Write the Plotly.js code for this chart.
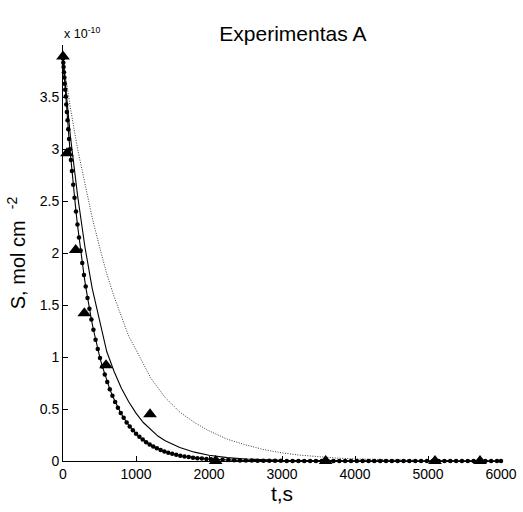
<!DOCTYPE html>
<html>
<head>
<meta charset="utf-8">
<script src="https://cdn.plot.ly/plotly-3.0.1.min.js"></script>
<style>html,body{margin:0;padding:0;background:#fff;}#chart{width:523px;height:512px;}</style>
</head>
<body>
<div id="chart"></div>
<script>
// Experimental points (triangles), S in units of 1e-10 mol cm^-2
const expT = [0, 55, 174, 292, 589, 1192, 2091, 3598, 5096, 5712];
const expS = [3.89, 2.96, 2.03, 1.42, 0.92, 0.45, 0.0, 0.0, 0.0, 0.0];

// Model curve with dot markers
const dotT = [0, 4, 8, 13, 18, 24, 30, 37, 45, 53, 62, 72, 83, 95, 108, 122, 140, 158, 178, 198,
  219, 241, 264, 287, 311, 336, 362, 389, 417, 446, 476, 507, 539, 572, 606, 641, 677, 714, 752, 791,
  831, 872, 914, 957, 1001, 1046, 1092, 1139, 1187, 1236, 1286, 1337, 1389, 1442, 1496, 1551, 1607, 1664, 1722, 1781,
  1841, 1902, 1964, 2027, 2105, 2185, 2265, 2345, 2425, 2505, 2585, 2665, 2745, 2825, 2905, 2985, 3065, 3145, 3225, 3305,
  3385, 3465, 3545, 3625, 3705, 3785, 3865, 3945, 4025, 4105, 4185, 4265, 4345, 4425, 4505, 4585, 4665, 4745, 4825, 4905,
  4985, 5065, 5145, 5225, 5305, 5385, 5465, 5545, 5625, 5705, 5785, 5865, 5945, 6000];
const dotS = [3.870, 3.829, 3.788, 3.737, 3.687, 3.628, 3.570, 3.504, 3.429, 3.356, 3.276, 3.189, 3.096, 2.998, 2.895, 2.788, 2.656, 2.531, 2.398, 2.273,
  2.148, 2.025, 1.903, 1.789, 1.677, 1.568, 1.463, 1.360, 1.262, 1.167, 1.077, 0.990, 0.909, 0.832, 0.759, 0.691, 0.627, 0.568, 0.513, 0.462,
  0.415, 0.371, 0.332, 0.295, 0.262, 0.233, 0.206, 0.181, 0.159, 0.140, 0.122, 0.106, 0.092, 0.080, 0.069, 0.060, 0.051, 0.044, 0.038, 0.032,
  0.027, 0.023, 0.020, 0.017, 0.0135, 0.0109, 0.0088, 0.0071, 0.0057, 0.0046, 0.0037, 0.0030, 0.0024, 0.0019, 0.0016, 0.0013, 0.0010, 0.0008, 0.0007, 0.0005,
  0.0004, 0.0003, 0.0003, 0.0002, 0.0002, 0.0002, 0.0001, 0.0001, 0.0001, 0.0001, 0, 0, 0, 0, 0, 0, 0, 0, 0, 0,
  0, 0, 0, 0, 0, 0, 0, 0, 0, 0, 0, 0, 0, 0];

// Model curve, solid line
const solidT = [0, 100, 200, 300, 400, 500, 600, 700, 800, 900, 1000, 1100, 1200, 1300, 1400, 1500, 1600, 1800, 2000, 2250, 2500, 3000, 3500, 4000, 5000, 6000];
const solidS = [3.87, 3.13, 2.55, 2.06, 1.66, 1.34, 1.05, 0.86, 0.70, 0.57, 0.46, 0.37, 0.30, 0.24, 0.195, 0.16, 0.13, 0.085, 0.055, 0.032, 0.019, 0.006, 0.002, 0.001, 0.0, 0.0];

// Model curve, dotted line
const dottedT = [0, 100, 200, 300, 400, 500, 600, 700, 800, 900, 1000, 1200, 1400, 1600, 1800, 2000, 2250, 2500, 2750, 3000, 3250, 3500, 3750, 4000, 4500, 5000, 5500, 6000];
const dottedS = [3.87, 3.40, 3.00, 2.66, 2.34, 2.06, 1.80, 1.58, 1.39, 1.20, 1.07, 0.80, 0.61, 0.47, 0.37, 0.29, 0.21, 0.155, 0.11, 0.078, 0.056, 0.040, 0.028, 0.020, 0.010, 0.005, 0.003, 0.002];

const xTicks = [0, 1000, 2000, 3000, 4000, 5000, 6000];
const yTicks = [0, 0.5, 1, 1.5, 2, 2.5, 3, 3.5];
const yTickText = ['0', '0.5', '1', '1.5', '2', '2.5', '3', '3.5'];

const FONT = 'Liberation Sans, Arial, Helvetica, sans-serif';

const traces = [
  {x: dottedT, y: dottedS, mode: 'lines', line: {color: '#222', width: 0.9, dash: '1px,1.5px'}, showlegend: false},
  {x: solidT, y: solidS, mode: 'lines', line: {color: '#000', width: 1.1}, showlegend: false},
  {x: dotT, y: dotS, mode: 'lines+markers', line: {color: '#000', width: 1.1},
   marker: {symbol: 'circle', size: 4.5, color: '#000'}, cliponaxis: false, showlegend: false},
  {x: expT, y: expS, mode: 'markers', marker: {symbol: 'triangle-up', size: 12, color: '#000'},
   cliponaxis: false, showlegend: false}
];

const layout = {
  width: 523, height: 512,
  margin: {l: 63, r: 22, t: 45, b: 51},
  paper_bgcolor: '#fff', plot_bgcolor: '#fff',
  font: {family: FONT, color: '#000', size: 14},
  showlegend: false,
  title: {text: 'Experimentas A', font: {family: FONT, size: 21, color: '#000'},
          x: 0.56, xref: 'container', xanchor: 'center', y: 0.935, yref: 'container', yanchor: 'middle'},
  xaxis: {
    range: [0, 6000], tickvals: xTicks, ticktext: xTicks.map(String),
    ticks: 'inside', ticklen: 5, tickcolor: '#000', tickwidth: 1,
    showline: true, linecolor: '#000', linewidth: 1, mirror: false,
    showgrid: false, zeroline: false,
    tickfont: {family: FONT, size: 14, color: '#000'},
    title: {text: 't,s', font: {family: FONT, size: 21, color: '#000'}, standoff: 0}
  },
  yaxis: {
    range: [0, 4.0], tickvals: yTicks, ticktext: yTickText,
    ticks: 'inside', ticklen: 5, tickcolor: '#000', tickwidth: 1,
    showline: true, linecolor: '#000', linewidth: 1, mirror: false,
    showgrid: false, zeroline: false,
    tickfont: {family: FONT, size: 14, color: '#000'},
    title: {text: 'S, mol cm  <sup>-2</sup>', font: {family: FONT, size: 20, color: '#000'}, standoff: 8}
  },
  annotations: [
    {text: 'x 10<sup>-10</sup>', xref: 'paper', yref: 'paper', x: -0.003, y: 1.0, xanchor: 'left', yanchor: 'bottom',
     yshift: 2, showarrow: false, font: {family: FONT, size: 12.5, color: '#000'}}
  ]
};

Plotly.newPlot('chart', traces, layout, {displayModeBar: false, staticPlot: true});
</script>
</body>
</html>
